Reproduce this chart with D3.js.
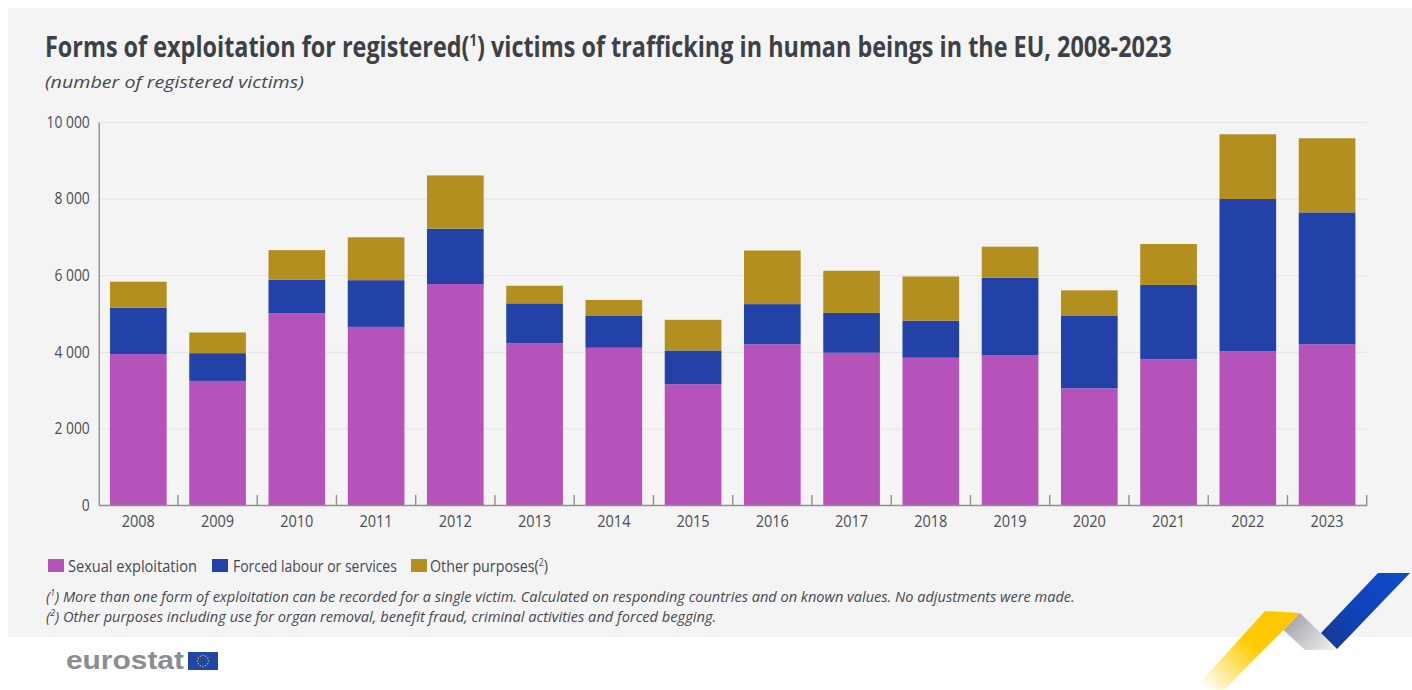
<!DOCTYPE html>
<html>
<head>
<meta charset="utf-8">
<script src="https://cdn.jsdelivr.net/npm/d3@7"></script>
<style>
  html, body { margin: 0; padding: 0; background: #fff; overflow: hidden; }
  text { font-family: "Open Sans", sans-serif; fill: #45494f; }
  .grid line { stroke: #e3e3e4; }
  .grid .domain { display: none; }
  .axis text { font-family: "Open Sans", sans-serif; font-size: 16.5px; fill: #4a4d52; }
  .axis .domain, .tick-mark { stroke: #8f8f8f; stroke-width: 1.4; fill: none; }
</style>
</head>
<body>
<div id="chart"></div>
<script>
/* DATA */
const years = [2008, 2009, 2010, 2011, 2012, 2013, 2014, 2015, 2016, 2017, 2018, 2019, 2020, 2021, 2022, 2023];
const sexualExploitation = [3940, 3240, 5005, 4650, 5770, 4225, 4105, 3155, 4195, 3975, 3845, 3915, 3045, 3805, 4015, 4195];
const forcedLabour = [1210, 725, 880, 1220, 1445, 1040, 830, 880, 1050, 1040, 970, 2020, 1890, 1940, 3975, 3445];
const otherPurposes = [680, 540, 770, 1120, 1390, 460, 420, 800, 1400, 1100, 1150, 810, 670, 1070, 1690, 1935];
const yTicks = [0, 2000, 4000, 6000, 8000, 10000];
const seriesKeys = ["sexual", "forced", "other"];
const seriesColors = ["#b653bb", "#2342a8", "#b38f1f"];

/* CONSTANTS */
const width = 1412,
  height = 690,
  margin = { top: 122, bottom: 185, left: 98.7, right: 45.3 };

const svg = d3.select("#chart").append("svg")
  .attr("width", width)
  .attr("height", height)
  .style("display", "block");

const defs = svg.append("defs");

// background panel
svg.append("rect")
  .attr("x", 8).attr("y", 8)
  .attr("width", width - 8).attr("height", 629)
  .attr("fill", "#f4f4f5");

/* SCALES */
const xScale = d3.scaleBand()
  .domain(years)
  .range([margin.left, width - margin.right])
  .paddingInner(0.285)
  .paddingOuter(0.1425);

const yScale = d3.scaleLinear()
  .domain([0, 10000])
  .range([height - margin.bottom, margin.top]);

const color = d3.scaleOrdinal().domain(seriesKeys).range(seriesColors);

const spaced = d3.formatLocale({ decimal: ".", thousands: " ", grouping: [3], currency: ["", ""] }).format(",");

// squeeze text horizontally, the installed fonts are wider than the original condensed one
function squeeze(sel, k) {
  sel.each(function () {
    const t = d3.select(this);
    const box = this.getBBox();
    const anchor = t.style("text-anchor");
    const ox = anchor === "end" ? box.x + box.width : anchor === "middle" ? box.x + box.width / 2 : box.x;
    t.attr("transform", `translate(${ox},0) scale(${k},1) translate(${-ox},0)`);
  });
}

function fitWidth(sel, target) {
  const w = sel.node().getComputedTextLength();
  squeeze(sel, target / w);
}

/* GRID AND AXES */
svg.append("g")
  .attr("class", "grid")
  .attr("transform", `translate(${margin.left},0)`)
  .call(d3.axisLeft(yScale).tickValues(yTicks.slice(1)).tickSize(-(width - margin.left - margin.right)).tickFormat(""));

const yAxis = svg.append("g")
  .attr("class", "axis")
  .attr("transform", `translate(${margin.left},0)`)
  .call(d3.axisLeft(yScale).tickValues(yTicks).tickSize(0).tickPadding(9).tickFormat(spaced));
yAxis.selectAll("text").call(squeeze, 0.84);

/* BARS */
const rows = years.map((year, i) => ({
  year,
  sexual: sexualExploitation[i],
  forced: forcedLabour[i],
  other: otherPurposes[i]
}));

svg.append("g")
  .selectAll("g")
  .data(d3.stack().keys(seriesKeys)(rows))
  .join("g")
  .attr("fill", d => color(d.key))
  .selectAll("rect")
  .data(d => d)
  .join("rect")
  .attr("x", d => xScale(d.data.year))
  .attr("y", d => yScale(d[1]))
  .attr("width", xScale.bandwidth())
  .attr("height", d => yScale(d[0]) - yScale(d[1]));

const xAxis = svg.append("g")
  .attr("class", "axis")
  .attr("transform", `translate(0,${height - margin.bottom})`)
  .call(d3.axisBottom(xScale).tickSize(0).tickPadding(10));
xAxis.selectAll("text").call(squeeze, 0.88);

// tick marks sit between the bars and point upward
svg.append("g")
  .selectAll("line")
  .data(years)
  .join("line")
  .attr("class", "tick-mark")
  .attr("x1", d => xScale(d) + xScale.bandwidth() + xScale.step() * 0.1425)
  .attr("x2", d => xScale(d) + xScale.bandwidth() + xScale.step() * 0.1425)
  .attr("y1", height - margin.bottom)
  .attr("y2", height - margin.bottom - 10);

/* TITLE */
const title = svg.append("text")
  .attr("x", 45).attr("y", 57)
  .attr("font-size", 29).attr("font-weight", 700)
  .style("fill", "#3c4148");
title.append("tspan").text("Forms of exploitation for registered(");
title.append("tspan").text("1").attr("font-size", 16).attr("dy", -11);
title.append("tspan").text(") victims of trafficking in human beings in the EU, 2008-2023").attr("dy", 11);
fitWidth(title, 1127);

const subtitle = svg.append("text")
  .attr("x", 45).attr("y", 88)
  .attr("font-size", 17).attr("font-style", "italic")
  .text("(number of registered victims)");
fitWidth(subtitle, 259);

/* LEGEND */
const legendItems = [
  { key: "sexual", x: 48, textX: 68, w: 129, label: "Sexual exploitation" },
  { key: "forced", x: 212, textX: 233, w: 164, label: "Forced labour or services" },
  { key: "other", x: 411, textX: 430, w: 118, label: "Other purposes(", note: "2" }
];

const legend = svg.append("g");
legend.selectAll("rect")
  .data(legendItems)
  .join("rect")
  .attr("x", d => d.x).attr("y", 559)
  .attr("width", 16).attr("height", 13)
  .attr("fill", d => color(d.key));

legendItems.forEach(d => {
  const t = legend.append("text")
    .attr("x", d.textX).attr("y", 572)
    .attr("font-size", 16.5);
  t.append("tspan").text(d.label);
  if (d.note) {
    t.append("tspan").text(d.note).attr("font-size", 10).attr("dy", -6);
    t.append("tspan").text(")").attr("dy", 6);
  }
  fitWidth(t, d.w);
});

/* FOOTNOTES */
const footnotes = [
  { n: "1", y: 602, w: 1030, text: " More than one form of exploitation can be recorded for a single victim. Calculated on responding countries and on known values. No adjustments were made." },
  { n: "2", y: 622, w: 671, text: " Other purposes including use for organ removal, benefit fraud, criminal activities and forced begging." }
];

footnotes.forEach(d => {
  const t = svg.append("text")
    .attr("x", 46).attr("y", d.y)
    .attr("font-size", 15).attr("font-style", "italic");
  t.append("tspan").text("(");
  t.append("tspan").text(d.n).attr("font-size", 9).attr("dy", -6);
  t.append("tspan").text(")").attr("dy", 6);
  t.append("tspan").text(d.text);
  fitWidth(t, d.w);
});

/* EUROSTAT LOGO */
const logo = svg.append("text")
  .attr("x", 66).attr("y", 669)
  .attr("font-size", 25).attr("font-weight", 700)
  .style("font-family", "'Liberation Sans', sans-serif")
  .style("fill", "#8a8e93")
  .text("eurostat");
fitWidth(logo, 118);

svg.append("rect")
  .attr("x", 188).attr("y", 652)
  .attr("width", 30).attr("height", 18)
  .attr("fill", "#1f47a8");

svg.append("g")
  .selectAll("circle")
  .data(d3.range(12))
  .join("circle")
  .attr("cx", d => 203 + 5.5 * Math.cos(d * Math.PI / 6))
  .attr("cy", d => 661 + 5.5 * Math.sin(d * Math.PI / 6))
  .attr("r", 0.7)
  .attr("fill", "#e8c52a");

/* RIBBON */
function addGradient(id, x1, y1, x2, y2, stops) {
  const g = defs.append("linearGradient")
    .attr("id", id)
    .attr("gradientUnits", "userSpaceOnUse")
    .attr("x1", x1).attr("y1", y1).attr("x2", x2).attr("y2", y2);
  stops.forEach(s => g.append("stop")
    .attr("offset", s[0])
    .attr("stop-color", s[1])
    .attr("stop-opacity", s[2]));
}

addGradient("ribbon-yellow", 1205, 690, 1270, 625, [[0, "#ffcd05", 0], [0.7, "#ffcd05", 1], [1, "#fdc800", 1]]);
addGradient("ribbon-grey", 1292, 620, 1325, 652, [[0, "#a6a9b0", 1], [1, "#e9e9ea", 1]]);
addGradient("ribbon-blue", 1328, 641, 1395, 575, [[0, "#163a98", 1], [0.5, "#0f44bd", 1], [1, "#1049c6", 1]]);

const ribbon = svg.append("g");
ribbon.append("path")
  .attr("d", "M1300,613 L1283.5,630 L1305,650 L1336,650 L1320.5,633 Z")
  .attr("fill", "url(#ribbon-grey)");
ribbon.append("path")
  .attr("d", "M1265,611 L1300,613 L1225,689 L1194,689 Z")
  .attr("fill", "url(#ribbon-yellow)");
ribbon.append("path")
  .attr("d", "M1378,573 L1410,573 L1337,649 L1321,633 Z")
  .attr("fill", "url(#ribbon-blue)");
</script>
</body>
</html>
